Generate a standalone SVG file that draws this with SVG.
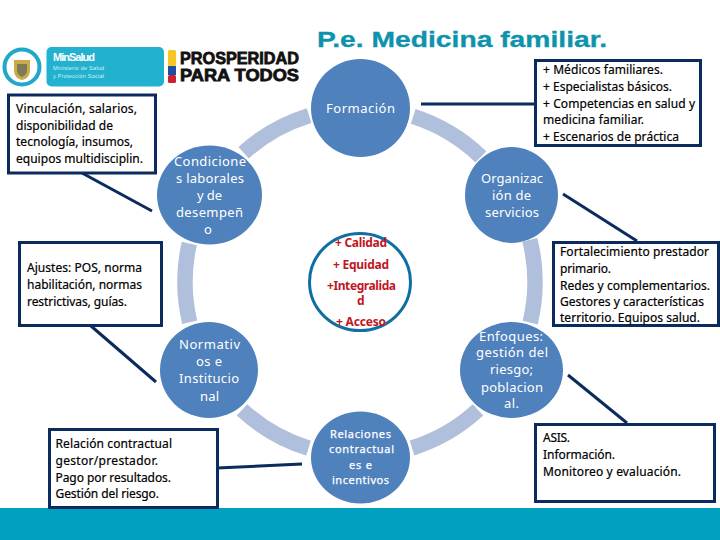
<svg xmlns="http://www.w3.org/2000/svg" width="720" height="540" viewBox="0 0 720 540">
<style>
.box{fill:#fff;stroke:#0b2a5e;stroke-width:3}
.conn{fill:none;stroke:#0b2a5e;stroke-width:3}
.arc{fill:none;stroke:#b0bfdb;stroke-width:15.500}
.node{fill:#4f81bd}
.b{font-family:"Noto Sans","Liberation Sans",sans-serif;font-size:12px;fill:#000;stroke:#000;stroke-width:.2}
.w{font-family:"Noto Sans","Liberation Sans",sans-serif;font-size:13px;fill:#fff}
.ws{font-family:"Noto Sans","Liberation Sans",sans-serif;font-size:11px;fill:#fff;stroke:#fff;stroke-width:.25}
.r{font-family:"Noto Sans","Liberation Sans",sans-serif;font-size:12px;font-weight:700;fill:#c0161f}
.logo{font-family:"Liberation Sans",sans-serif;font-weight:700}
</style>
<rect width="720" height="540" fill="#fff"/>
<rect id="footer" x="0" y="508" width="720" height="32" fill="#00a0c0"/>
<text id="title" x="317" y="47" textLength="290" lengthAdjust="spacingAndGlyphs" font-family="Liberation Sans, sans-serif" font-size="22" font-weight="700" fill="#0e93ad" stroke="#0e93ad" stroke-width=".3">P.e. Medicina familiar.</text>
<g id="logo-escudo">
<circle cx="22" cy="67" r="17.500" fill="#fff" stroke="#1fa8c9" stroke-width="4"/>
<path d="M14 60h16v10q0 8-8 10q-8-2-8-10z" fill="#c9ab4e"/>
<path d="M17 64h10v6q0 5-5 7q-5-2-5-7z" fill="#7d7a55"/>
</g>
<g id="logo-minsalud">
<rect x="46.500" y="47" width="117.500" height="39.500" rx="5" fill="#22b2d0"/>
<text class="logo" x="53" y="61" font-size="11" fill="#fff" textLength="42">MinSalud</text>
<text x="53" y="70" font-family="Liberation Sans, sans-serif" font-size="5.500" fill="#d5f1f7" textLength="51">Ministerio de Salud</text>
<text x="53" y="78" font-family="Liberation Sans, sans-serif" font-size="5.500" fill="#d5f1f7" textLength="51">y Protección Social</text>
</g>
<g id="logo-prosperidad">
<rect x="168" y="50" width="8" height="16" rx="1.500" fill="#f6c625"/>
<rect x="168" y="66" width="8" height="9" fill="#1d4ea2"/>
<rect x="168" y="75" width="8" height="8" rx="1.500" fill="#d0202f"/>
<text class="logo" x="180" y="63.500" font-size="16.500" textLength="119" lengthAdjust="spacingAndGlyphs" fill="#111" stroke="#111" stroke-width=".8">PROSPERIDAD</text>
<text class="logo" x="180" y="81" font-size="16.500" textLength="119" lengthAdjust="spacingAndGlyphs" fill="#111" stroke="#111" stroke-width=".8">PARA TODOS</text>
</g>
<g id="ring">
<path class="arc" d="M413.200 116.300A174 174 0 0 1 480.900 156.800"/>
<path class="arc" d="M529.800 239.900A174 174 0 0 1 530.200 322.600"/>
<path class="arc" d="M478 409.900A174 174 0 0 1 412 448"/>
<path class="arc" d="M308.500 448.200A174 174 0 0 1 242 409.900"/>
<path class="arc" d="M189.700 322.300A174 174 0 0 1 189.300 243.500"/>
<path class="arc" d="M243.600 152.700A174 174 0 0 1 309.100 115.600"/>
</g>
<g id="connectors">
<path class="conn" d="M82 173L152 211"/>
<path class="conn" d="M421 104H534"/>
<path class="conn" d="M563 194L637 241"/>
<path class="conn" d="M91 326L156 382"/>
<path class="conn" d="M217 468L302 464"/>
<path class="conn" d="M568 375L627 423"/>
</g>
<g id="box-vinculacion">
<rect class="box" x="8.500" y="95" width="147" height="78"/>
<text class="b" x="16" y="113" textLength="121">Vinculación, salarios,</text>
<text class="b" x="16" y="130" textLength="97">disponibilidad de</text>
<text class="b" x="16" y="146" textLength="117">tecnología, insumos,</text>
<text class="b" x="16" y="163" textLength="127">equipos multidisciplin.</text>
</g>
<g id="box-ajustes">
<rect class="box" x="19.500" y="242.500" width="142" height="83"/>
<text class="b" x="27" y="272" textLength="115">Ajustes: POS, norma</text>
<text class="b" x="27" y="289" textLength="115">habilitación, normas</text>
<text class="b" x="27" y="306" textLength="100">restrictivas, guías.</text>
</g>
<g id="box-relacion">
<rect class="box" x="49.500" y="429.500" width="168" height="78"/>
<text class="b" x="55.500" y="448" textLength="116.500">Relación contractual</text>
<text class="b" x="55.500" y="465" textLength="102.500">gestor/prestador.</text>
<text class="b" x="55.500" y="482" textLength="115.500">Pago por resultados.</text>
<text class="b" x="55.500" y="498" textLength="103.500">Gestión del riesgo.</text>
</g>
<g id="box-medicos">
<rect class="box" x="535.500" y="60.500" width="165" height="85"/>
<text class="b" x="543" y="74" textLength="120">+ Médicos familiares.</text>
<text class="b" x="543" y="91" textLength="129">+ Especialistas básicos.</text>
<text class="b" x="543" y="108" textLength="152">+ Competencias en salud y</text>
<text class="b" x="543" y="124" textLength="101">medicina familiar.</text>
<text class="b" x="543" y="141" textLength="136">+ Escenarios de práctica</text>
</g>
<g id="box-fortalecimiento">
<rect class="box" x="553.500" y="242.500" width="165" height="83"/>
<text class="b" x="560" y="256" textLength="149">Fortalecimiento prestador</text>
<text class="b" x="560" y="273" textLength="51">primario.</text>
<text class="b" x="560" y="290" textLength="150">Redes y complementarios.</text>
<text class="b" x="560" y="306" textLength="144">Gestores y características</text>
<text class="b" x="560" y="322" textLength="140">territorio. Equipos salud.</text>
</g>
<g id="box-asis">
<rect class="box" x="535.500" y="424.500" width="179" height="77"/>
<text class="b" x="543" y="442" textLength="27">ASIS.</text>
<text class="b" x="543" y="459" textLength="72">Información.</text>
<text class="b" x="543" y="476" textLength="138">Monitoreo y evaluación.</text>
</g>
<g id="node-formacion">
<ellipse class="node" cx="360.500" cy="108" rx="49.500" ry="49"/>
<text class="w" x="326" y="113" textLength="69">Formación</text>
</g>
<g id="node-condiciones">
<ellipse class="node" cx="209.500" cy="195" rx="52.500" ry="49.500"/>
<text class="w" x="174" y="166" textLength="72">Condicione</text>
<text class="w" x="176" y="183" textLength="68">s laborales</text>
<text class="w" x="197" y="200" textLength="25">y de</text>
<text class="w" x="176" y="217" textLength="67">desempeñ</text>
<text class="w" x="204" y="234" textLength="9">o</text>
</g>
<g id="node-organizacion">
<ellipse class="node" cx="511.500" cy="195" rx="46.500" ry="48"/>
<text class="w" x="481" y="183" textLength="62">Organizac</text>
<text class="w" x="492" y="200" textLength="39">ión de</text>
<text class="w" x="485" y="217" textLength="54">servicios</text>
</g>
<g id="node-normativos">
<ellipse class="node" cx="209" cy="370" rx="49" ry="48"/>
<text class="w" x="179" y="349" textLength="61">Normativ</text>
<text class="w" x="196" y="366" textLength="26">os e</text>
<text class="w" x="179" y="383" textLength="60">Institucio</text>
<text class="w" x="200" y="401" textLength="19">nal</text>
</g>
<g id="node-enfoques">
<ellipse class="node" cx="511.500" cy="370" rx="51.500" ry="48"/>
<text class="w" x="479" y="341" textLength="64">Enfoques:</text>
<text class="w" x="476" y="357" textLength="72">gestión del</text>
<text class="w" x="490" y="374" textLength="43">riesgo;</text>
<text class="w" x="481" y="392" textLength="62">poblacion</text>
<text class="w" x="504" y="408" textLength="15">al.</text>
</g>
<g id="node-relaciones">
<ellipse class="node" cx="360.500" cy="457.500" rx="49.500" ry="46"/>
<text class="ws" x="330" y="438" textLength="61">Relaciones</text>
<text class="ws" x="329" y="453" textLength="65">contractual</text>
<text class="ws" x="349" y="469" textLength="23">es e</text>
<text class="ws" x="332" y="484" textLength="57">incentivos</text>
</g>
<g id="node-centro">
<ellipse cx="360" cy="282" rx="50.500" ry="48.500" fill="#fff" stroke="#0f6fa3" stroke-width="3"/>
<text class="r" x="335" y="247" textLength="52">+ Calidad</text>
<text class="r" x="333" y="269" textLength="56">+ Equidad</text>
<text class="r" x="327" y="290" textLength="69">+Integralida</text>
<text class="r" x="357" y="305" textLength="8">d</text>
<text class="r" x="336" y="326" textLength="50">+ Acceso</text>
</g>
</svg>
